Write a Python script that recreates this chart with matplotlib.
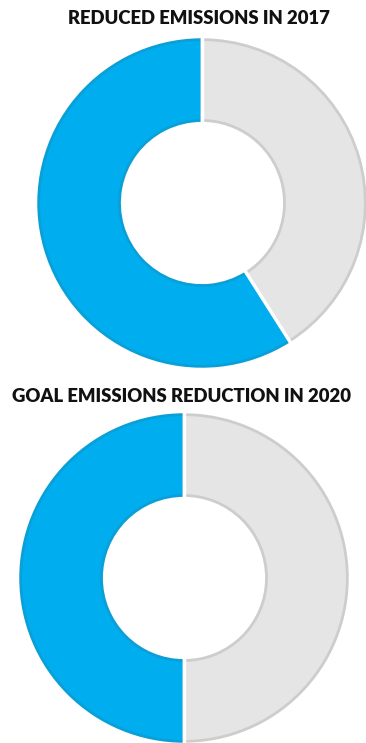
import numpy as np
import matplotlib
matplotlib.use("Agg")
import matplotlib.pyplot as plt

titles = ["REDUCED EMISSIONS IN 2017", "GOAL EMISSIONS REDUCTION IN 2020"]
reduced_2017 = [59, 41]
goal_2020 = [50, 50]
fills = ["#00aeef", "#e5e5e5"]
edges = ["#0a9fd6", "#cdcdcd"]

W, H = 366, 743
fig = plt.figure(figsize=(W / 100, H / 100), dpi=100)

# pixel boxes (left, top, size) for each donut
boxes = [(37, 38, 330), (19, 413, 330)]
title_pos = [(199, 19), (182, 396)]

for vals, box, title, tp in zip([reduced_2017, goal_2020], boxes, titles, title_pos):
    l, t, s = box
    ax = fig.add_axes([l / W, 1 - (t + s) / H, s / W, s / H])
    wedges, _ = ax.pie(vals, colors=fills, startangle=90, counterclock=True,
                       radius=0.99, wedgeprops=dict(width=0.49, linewidth=2))
    for w, ec in zip(wedges, edges):
        w.set_edgecolor(ec)
    # white gaps between slices
    cum = np.cumsum([0] + vals) / sum(vals)
    for c in cum[:-1]:
        ang = np.deg2rad(90 + 360 * c)
        ax.plot([0.48 * np.cos(ang), 1.02 * np.cos(ang)],
                [0.48 * np.sin(ang), 1.02 * np.sin(ang)],
                color="white", lw=2.5, solid_capstyle="butt")
    ax.set_xlim(-1, 1)
    ax.set_ylim(-1, 1)
    ax.set_aspect("equal")
    ax.axis("off")
    fig.text(tp[0] / W, 1 - tp[1] / H, title, ha="center", va="center",
             fontsize=13.3, fontweight="heavy", family="Lato", color="#111111")

fig.savefig("out.png", dpi=100)
